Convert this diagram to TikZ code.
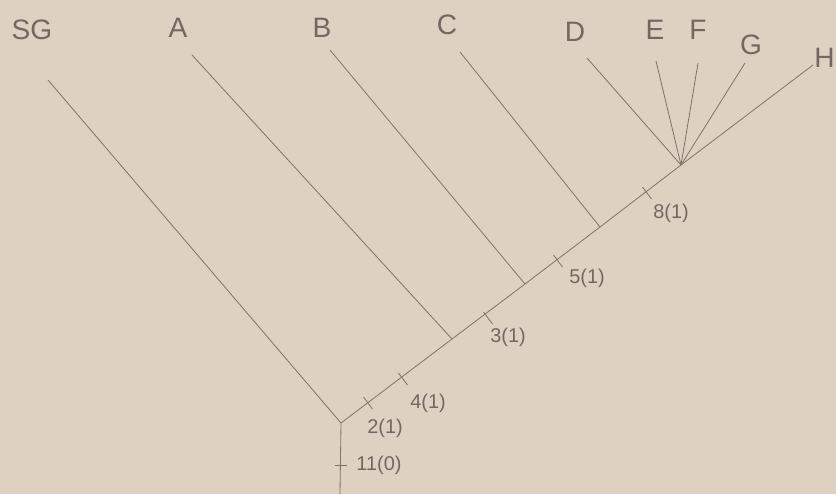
\documentclass[tikz,border=0pt]{standalone}
\usepackage{fontspec}
\usetikzlibrary{calc}
\setmainfont{Liberation Sans}
\definecolor{paper}{RGB}{222,209,194}
\definecolor{pencil}{RGB}{130,115,105}
\definecolor{ink}{RGB}{115,103,98}
\begin{document}
\begin{tikzpicture}[x=0.03cm,y=-0.03cm,
  branch/.style={draw=pencil,line width=0.7pt},
  taxon/.style={text=ink,font=\fontsize{24}{26}\selectfont,inner sep=0pt},
  charlbl/.style={text=ink,font=\fontsize{17}{19}\selectfont,inner sep=0pt}]
\fill[paper] (0,0) rectangle (836,494);
\useasboundingbox (0,0) rectangle (836,494);
% internal points
\coordinate (base) at (340,494);
\coordinate (root) at (341,423);
\coordinate (nA) at (452,339);
\coordinate (nB) at (525,284);
\coordinate (nC) at (600,227);
\coordinate (nD) at (681,165);
% tips
\coordinate (tSG) at (48,80);
\coordinate (tA) at (192,55);
\coordinate (tB) at (330,50);
\coordinate (tC) at (460,52);
\coordinate (tD) at (587,58);
\coordinate (tE) at (656,61);
\coordinate (tF) at (698,63);
\coordinate (tG) at (745,63);
\coordinate (tH) at (813,65);
% labels
\node[taxon] (lSG) at (32,30) {SG};
\node[taxon] (lA) at (178,28) {A};
\node[taxon] (lB) at (322,28) {B};
\node[taxon] (lC) at (447,25) {C};
\node[taxon] (lD) at (575,32) {D};
\node[taxon] (lE) at (655,30) {E};
\node[taxon] (lF) at (698,30) {F};
\node[taxon] (lG) at (751,45) {G};
\node[taxon,anchor=east] (lH) at (835,58) {H};
% branches
\draw[branch] (base) -- (root) -- (nA) -- (nB) -- (nC) -- (nD) -- (tH);
\draw[branch] (root) -- (tSG);
\draw[branch] (nA) -- (tA);
\draw[branch] (nB) -- (tB);
\draw[branch] (nC) -- (tC);
\draw[branch] (nD) -- (tD);
\draw[branch] (nD) -- (tE);
\draw[branch] (nD) -- (tF);
\draw[branch] (nD) -- (tG);
% tick marks
\coordinate (k11) at (341,465);
\draw[branch] ($(k11)+(-6,0)$) -- ($(k11)+(6,0)$);
\foreach \n/\p in {k2/{368,403},k4/{403,379},k3/{488,318},k5/{558,261},k8/{647,193}}{
  \coordinate (\n) at (\p);
  \draw[branch] ($(\n)+(-4.5,-6)$) -- ($(\n)+(4.5,6)$);
}
\node[charlbl] (c11) at (379,465) {11(0)};
\node[charlbl] (c2) at (385,428) {2(1)};
\node[charlbl] (c4) at (428,403) {4(1)};
\node[charlbl] (c3) at (508,337) {3(1)};
\node[charlbl] (c5) at (587,278) {5(1)};
\node[charlbl] (c8) at (671,213) {8(1)};
\end{tikzpicture}
\end{document}
